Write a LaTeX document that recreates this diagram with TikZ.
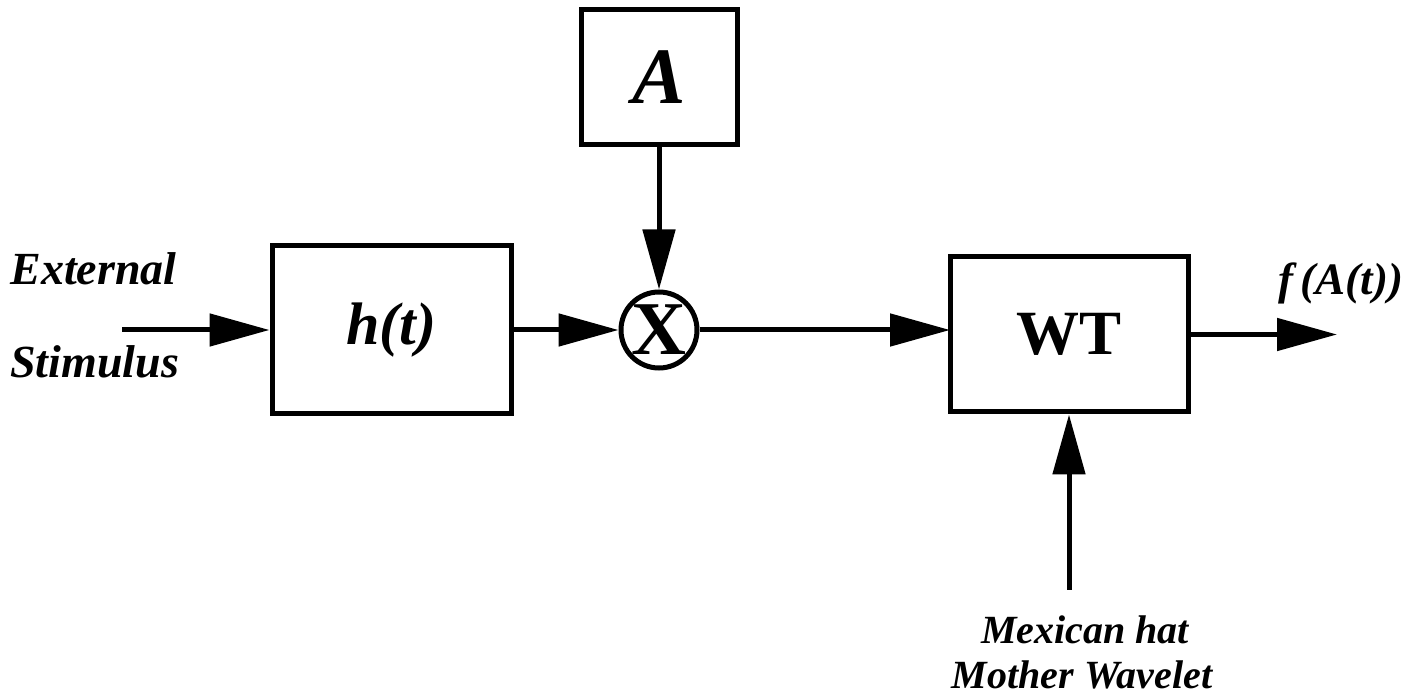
\documentclass[tikz,border=0pt]{standalone}
\usepackage{fontspec}
\setmainfont{Liberation Serif}
\usetikzlibrary{arrows.meta}
\begin{document}
\begin{tikzpicture}[x=0.5pt,y=-0.5pt,
  blk/.style={draw,line width=2.5pt,inner sep=0pt,fill=white},
  conn/.style={line width=2.5pt,-{Triangle[length=30pt,width=16pt]}},
  lbl/.style={font=\fontsize{23}{26}\selectfont\bfseries\itshape,anchor=base west,inner sep=0pt},
  big/.style={font=\fontsize{30}{36}\selectfont\bfseries\itshape}]
\useasboundingbox (0,0) rectangle (1421,700);
\node[blk,minimum width=156*0.5pt,minimum height=135*0.5pt,font=\fontsize{40}{44}\selectfont\bfseries\itshape] (A) at (659,77.5) {A};
\node[blk,minimum width=239*0.5pt,minimum height=168*0.5pt,big] (h) at (391.5,330) {h(t)};
\node[draw,circle,line width=2.5pt,minimum size=76*0.5pt,inner sep=0pt,font=\fontsize{38}{40}\selectfont\bfseries] (m) at (659,330) {X};
\node[blk,minimum width=238*0.5pt,minimum height=155*0.5pt,font=\fontsize{31.5}{36}\selectfont\bfseries] (wt) at (1069,334.5) {WT};
\coordinate (in) at (122,330);
\coordinate (out) at (1337,334.5);
\coordinate (mw) at (1069,590);
\coordinate (wtin) at (950,330);
\draw[conn] (in) -- (h.west);
\draw[conn] (h.east) -- (m.west);
\draw[conn] (A.south) -- (m.north);
\draw[conn] (m.east) -- (wtin);
\draw[conn] (wt.east) -- (out);
\draw[conn] (mw) -- (wt.south);
\node[lbl] (ext) at (10,285) {External};
\node[lbl] (stim) at (10,378) {Stimulus};
\node[lbl,font=\fontsize{22.5}{26}\selectfont\bfseries\itshape] (fa) at (1278,295) {f\,(A(t))};
\node[font=\fontsize{20}{24}\selectfont\bfseries\itshape,anchor=base,inner sep=0pt] (mex) at (1085,643) {Mexican hat};
\node[font=\fontsize{20}{24}\selectfont\bfseries\itshape,anchor=base,inner sep=0pt] (mot) at (1082,688) {Mother Wavelet};
\end{tikzpicture}
\end{document}
